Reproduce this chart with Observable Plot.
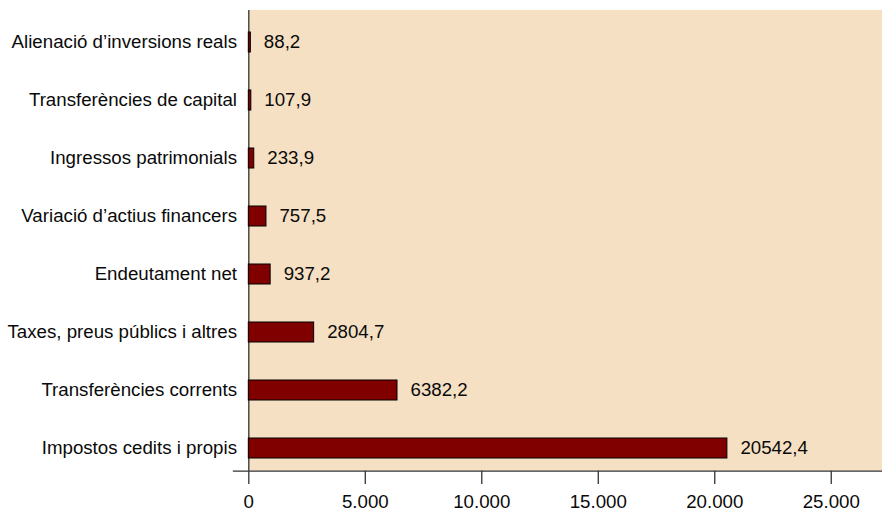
<!DOCTYPE html>
<html>
<head>
<meta charset="utf-8">
<script src="https://cdn.jsdelivr.net/npm/d3@7"></script>
<script src="https://cdn.jsdelivr.net/npm/@observablehq/plot@0.6"></script>
<style>
  html, body { margin: 0; padding: 0; background: #ffffff; }
  #chart { width: 882px; height: 512px; }
</style>
</head>
<body>
<div id="chart"></div>
<script>
const categories = [
  "Alienació d’inversions reals",
  "Transferències de capital",
  "Ingressos patrimonials",
  "Variació d’actius financers",
  "Endeutament net",
  "Taxes, preus públics i altres",
  "Transferències corrents",
  "Impostos cedits i propis"
];
const values = [88.2, 107.9, 233.9, 757.5, 937.2, 2804.7, 6382.2, 20542.4];
const xTicks = [0, 5000, 10000, 15000, 20000, 25000];

const locale = d3.formatLocale({decimal: ",", thousands: ".", grouping: [3], currency: ["", " €"]});
const tickFmt = locale.format(",d");
const valFmt = locale.format(".1f");

const data = categories.map((c, i) => ({category: c, value: values[i]}));

const chart = Plot.plot({
  width: 882,
  height: 512,
  marginLeft: 233,
  marginRight: 0,
  marginTop: 10,
  marginBottom: 41.3,
  x: {domain: [-657, 27200]},
  y: {domain: categories, range: [12.95, 477.75], padding: 0},
  style: {
    fontFamily: "'Liberation Sans', Arial, sans-serif",
    fontSize: "18.7px",
    background: "#ffffff",
    color: "#0a0a0a",
    overflow: "visible"
  },
  marks: [
    Plot.rect([0], {x1: 0, x2: 27200, fill: "#f5e0c3"}),
    Plot.ruleX([0], {stroke: "#333333", strokeWidth: 1.3}),
    Plot.barX(data, {
      x: "value", y: "category",
      fill: "#800000", stroke: "#000000", strokeWidth: 1,
      insetTop: 19, insetBottom: 19
    }),
    Plot.text(data, {
      x: "value", y: "category",
      text: d => valFmt(d.value),
      textAnchor: "start", dx: 13, fill: "#0a0a0a", fontSize: 18.7
    }),
    Plot.frame({anchor: "bottom", stroke: "#333333", strokeWidth: 1.3}),
    Plot.axisX({
      ticks: xTicks, tickFormat: tickFmt, tickSize: 13.3, tickPadding: 10,
      stroke: "#333333", strokeWidth: 1.3, label: null
    }),
    Plot.axisY({tickSize: 0, tickPadding: 0, dx: 3.5, label: null})
  ]
});

document.getElementById("chart").appendChild(chart);
</script>
</body>
</html>
